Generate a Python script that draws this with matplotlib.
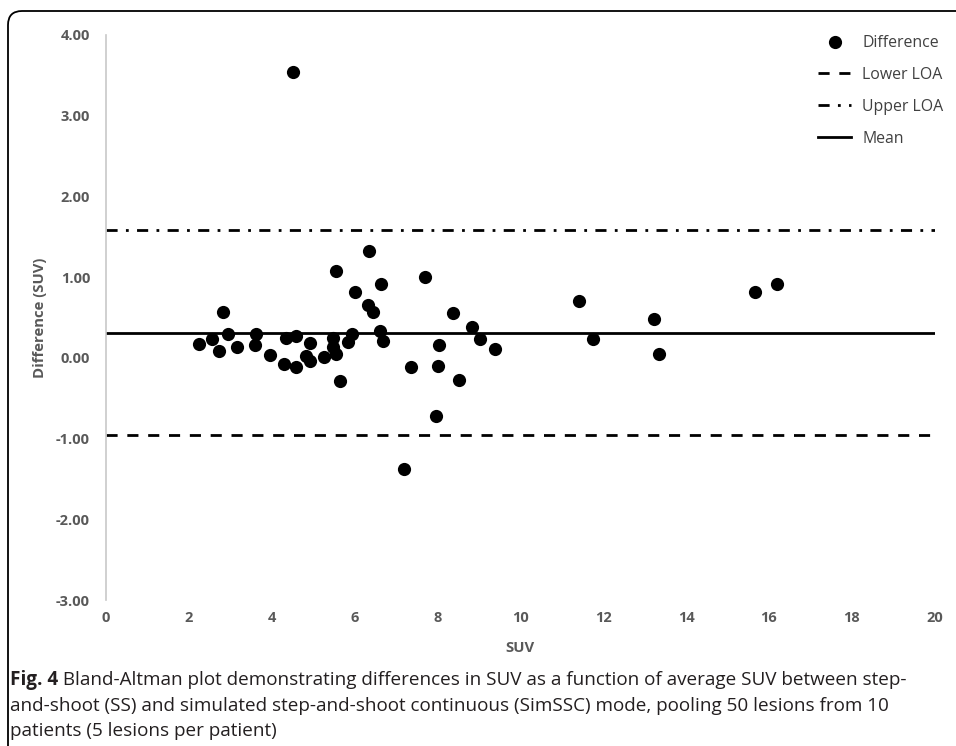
import matplotlib as mpl
import matplotlib.pyplot as plt
from matplotlib.patches import FancyBboxPatch
from matplotlib.transforms import IdentityTransform

# mean SUV of the two modes per lesion, and their difference
suv = [2.24, 2.55, 2.72, 2.83, 2.94, 3.16, 3.60, 3.63, 3.97, 4.30,
       4.34, 4.52, 4.59, 4.59, 4.92, 4.83, 4.92, 5.26, 5.49, 5.49,
       5.56, 5.54, 5.65, 5.85, 5.93, 6.00, 6.33, 6.35, 6.45, 6.61,
       6.63, 6.69, 7.19, 7.35, 7.70, 7.96, 8.02, 8.04, 8.38, 8.52,
       8.83, 9.03, 9.38, 11.42, 11.76, 13.23, 13.34, 15.66, 16.20]
diff = [0.17, 0.23, 0.09, 0.57, 0.30, 0.14, 0.16, 0.30, 0.03, -0.07,
        0.25, 3.54, 0.27, -0.11, 0.18, 0.02, -0.04, 0.01, 0.24, 0.13,
        0.05, 1.08, -0.29, 0.20, 0.29, 0.81, 0.65, 1.33, 0.57, 0.33,
        0.92, 0.21, -1.38, -0.11, 1.00, -0.72, -0.10, 0.16, 0.56, -0.28,
        0.38, 0.23, 0.11, 0.70, 0.23, 0.48, 0.05, 0.81, 0.91]

mean_diff = 0.31
lower_loa = -0.96
upper_loa = 1.58

x_ticks = [0, 2, 4, 6, 8, 10, 12, 14, 16, 18, 20]
y_ticks = [-3, -2, -1, 0, 1, 2, 3, 4]

caption_bold = "Fig. 4"
caption_lines = [
    " Bland-Altman plot demonstrating differences in SUV as a function of average SUV between step-",
    "and-shoot (SS) and simulated step-and-shoot continuous (SimSSC) mode, pooling 50 lesions from 10",
    "patients (5 lesions per patient)",
]

plt.rcParams['font.family'] = ['Open Sans', 'DejaVu Sans']
grey = '#595959'

fig = plt.figure(figsize=(9.56, 7.46), dpi=100)
ax = fig.add_axes([0.1109, 0.1957, 0.8667, 0.7574])

ax.plot(suv, diff, 'o', color='black', ms=9.5, mew=0, label='Difference', zorder=3)
ax.axhline(lower_loa, color='black', lw=2, ls=(0, (4, 3.5)), label='Lower LOA')
ax.axhline(upper_loa, color='black', lw=2, ls=(0, (4, 3, 1, 3)), label='Upper LOA')
ax.axhline(mean_diff, color='black', lw=2, ls='-', label='Mean')

ax.set_xlim(0, 20)
ax.set_ylim(-3, 4)
ax.set_xticks(x_ticks)
ax.set_xticklabels([str(t) for t in x_ticks])
ax.set_yticks(y_ticks)
ax.set_yticklabels([f"{t:.2f}" for t in y_ticks])
ax.tick_params(length=0, labelsize=10.5, labelcolor=grey)
ax.tick_params(axis='y', pad=11.5)
ax.tick_params(axis='x', pad=8)
for lab in ax.get_xticklabels() + ax.get_yticklabels():
    lab.set_fontweight('bold')

for s in ['top', 'right', 'bottom']:
    ax.spines[s].set_visible(False)
ax.spines['left'].set_color('#c8c8c8')
ax.spines['left'].set_linewidth(1.2)

ax.set_xlabel('SUV', fontsize=10.7, fontweight='bold', color=grey, va='center')
ax.xaxis.set_label_coords(0.5, -0.085)
ax.set_ylabel('Difference (SUV)', fontsize=10.7, fontweight='bold', color=grey, va='center')
ax.yaxis.set_label_coords(-0.0797, 0.5)

fig.legend(loc='upper left', bbox_to_anchor=(0.8556, 0.953), frameon=False,
           fontsize=11.4, labelcolor='#404040', handlelength=2.1, handletextpad=0.7,
           labelspacing=1.0, borderpad=0, borderaxespad=0, numpoints=1)

# caption below the chart
r = fig.canvas.get_renderer()
t0 = fig.text(10 / 956, 1 - 680 / 746, caption_bold, fontsize=13.6, fontweight='bold',
              color='#231f20', va='center', ha='left')
w = t0.get_window_extent(renderer=r).width
fig.text((10 + w) / 956, 1 - 680 / 746, caption_lines[0], fontsize=13.6,
         color='#231f20', va='center', ha='left')
fig.text(10 / 956, 1 - 706 / 746, caption_lines[1], fontsize=13.6,
         color='#231f20', va='center', ha='left')
fig.text(10 / 956, 1 - 731 / 746, caption_lines[2], fontsize=13.6,
         color='#231f20', va='center', ha='left')

# frame around the figure
frame = FancyBboxPatch((8, -30), 1000, 746 - 11 + 30,
                       boxstyle='round,pad=0,rounding_size=14',
                       fill=False, edgecolor='black', lw=1.3,
                       transform=IdentityTransform())
fig.add_artist(frame)

fig.savefig('out.png', dpi=100)
